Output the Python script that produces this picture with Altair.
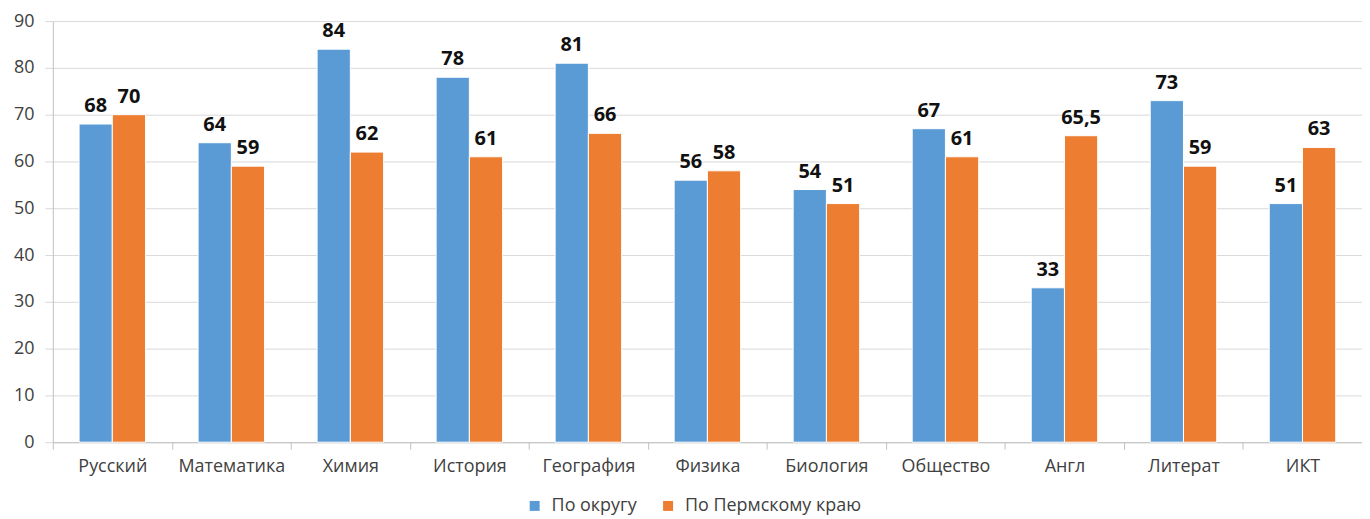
import altair as alt
import pandas as pd

subjects = ["Русский", "Математика", "Химия", "История", "География", "Физика",
            "Биология", "Общество", "Англ", "Литерат", "ИКТ"]
okrug = [68, 64, 84, 78, 81, 56, 54, 67, 33, 73, 51]
perm = [70, 59, 62, 61, 66, 58, 51, 61, 65.5, 59, 63]
series = ["По округу", "По Пермскому краю"]
colors = ["#5B9BD5", "#ED7D31"]

def fmt(v):
    return str(v).replace(".", ",") if v != int(v) else str(int(v))

rows = []
for s, a, b in zip(subjects, okrug, perm):
    rows.append({"subject": s, "series": series[0], "value": a, "label": fmt(a)})
    rows.append({"subject": s, "series": series[1], "value": b, "label": fmt(b)})
df = pd.DataFrame(rows)

FONT = "Open Sans"

x = alt.X("subject:N", sort=subjects, title=None,
          scale=alt.Scale(paddingInner=0, paddingOuter=0),
          axis=alt.Axis(labelAngle=0, tickBand="extent", domainColor="#bfbfbf",
                        tickColor="#bfbfbf", tickSize=7, labelPadding=8,
                        labelFontSize=18, labelColor="#404040", labelFont=FONT))
xo = alt.XOffset("series:N", sort=series,
                 scale=alt.Scale(paddingInner=0, paddingOuter=0.79))
y = alt.Y("value:Q", title=None,
          scale=alt.Scale(domain=[0, 90], nice=False),
          axis=alt.Axis(values=list(range(0, 91, 10)), grid=True, gridColor="#d9d9d9",
                        domainColor="#bfbfbf", tickColor="#d9d9d9", tickSize=8,
                        labelPadding=11, labelFontSize=18, labelColor="#404040",
                        labelFont=FONT))

bars = alt.Chart(df).mark_bar(stroke="white", strokeWidth=1).encode(
    x=x, xOffset=xo, y=y,
    color=alt.Color("series:N", sort=series,
                    scale=alt.Scale(domain=series, range=colors),
                    legend=alt.Legend(title=None, orient="none", direction="horizontal",
                                      legendX=475, legendY=478, symbolType="square",
                                      symbolSize=100, labelFontSize=18, labelFont=FONT,
                                      labelColor="#404040", columnPadding=22,
                                      labelLimit=400, labelOffset=8,
                                      symbolStrokeWidth=0)),
)

labels = alt.Chart(df).mark_text(baseline="alphabetic", dy=-12, fontSize=20,
                                 fontWeight="bold", font=FONT, color="#111111").encode(
    x=x, xOffset=xo, y=y, text="label:N",
)

chart = alt.layer(bars, labels).properties(
    width=1315, height=423,
    autosize=alt.AutoSizeParams(type="none"),
    padding={"left": 45, "top": 12, "right": 0, "bottom": 75},
).configure_view(stroke=None)

chart.save("out.html", embed_options={"renderer": "svg", "actions": False})
